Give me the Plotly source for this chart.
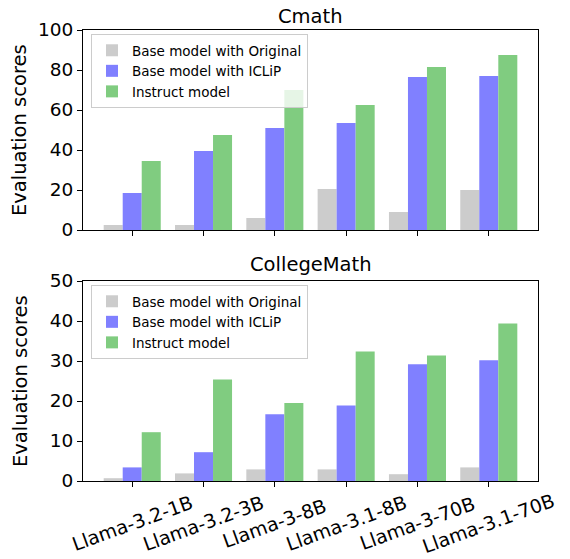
import plotly.graph_objects as go
from plotly.subplots import make_subplots

models = ["Llama-3.2-1B", "Llama-3.2-3B", "Llama-3-8B", "Llama-3.1-8B", "Llama-3-70B", "Llama-3.1-70B"]
series_names = ["Base model with Original", "Base model with ICLiP", "Instruct model"]

cmath_original = [2.5, 2.5, 6.0, 20.5, 9.0, 20.0]
cmath_iclip = [18.5, 39.5, 51.0, 53.5, 76.5, 77.0]
cmath_instruct = [34.5, 47.5, 70.0, 62.5, 81.5, 87.5]

college_original = [0.7, 1.9, 2.9, 2.9, 1.7, 3.4]
college_iclip = [3.4, 7.2, 16.7, 18.9, 29.2, 30.2]
college_instruct = [12.2, 25.4, 19.5, 32.4, 31.4, 39.4]

colors = ["#cccccc", "#8080ff", "#80cc80"]
FONT = "DejaVu Sans"

PLOT_W = 455
PLOT_H = 451

fig = make_subplots(rows=2, cols=1, vertical_spacing=51/PLOT_H,
                    subplot_titles=["Cmath", "CollegeMath"])

x = list(range(len(models)))
for row, data, leg in [(1, [cmath_original, cmath_iclip, cmath_instruct], "legend"),
                       (2, [college_original, college_iclip, college_instruct], "legend2")]:
    for name, vals, c in zip(series_names, data, colors):
        fig.add_trace(go.Bar(x=x, y=vals, name=name, marker_color=c,
                             marker_line_width=0, legend=leg), row=row, col=1)

axis_common = dict(showline=True, linecolor="black", linewidth=1, mirror=True,
                   ticks="outside", ticklen=5, tickcolor="black", showgrid=False,
                   zeroline=False, automargin=False,
                   tickfont=dict(family=FONT, size=18.5, color="black"))

fig.update_xaxes(range=[-0.69, 5.69], tickvals=x, ticktext=models,
                 showticklabels=False, **axis_common)
fig.update_yaxes(**axis_common)
fig.update_yaxes(range=[0, 100], tickvals=[0, 20, 40, 60, 80, 100], row=1, col=1)
fig.update_yaxes(range=[0, 50], tickvals=[0, 10, 20, 30, 40, 50], row=2, col=1)

for ann, ys in zip(fig.layout.annotations, [0, 3]):
    ann.font = dict(family=FONT, size=19.5, color="black")
    ann.yshift = ys

# rotated, centred category labels under the bottom panel
for i, m in enumerate(models):
    fig.add_annotation(text=m, xref="x2", yref="paper", x=i, y=0, yshift=-42,
                       textangle=-20, showarrow=False, xanchor="center", yanchor="middle",
                       font=dict(family=FONT, size=19, color="black"))

# y-axis labels, aligned at the same x for both panels
for yc in [1 - 100/PLOT_H, 100/PLOT_H]:
    fig.add_annotation(text="Evaluation scores", xref="paper", yref="paper",
                       x=(20 - 83) / PLOT_W, y=yc, textangle=-90, showarrow=False,
                       xanchor="center", yanchor="middle",
                       font=dict(family=FONT, size=19.5, color="black"))

legend_common = dict(x=8 / PLOT_W, xanchor="left", yanchor="top",
                     bgcolor="rgba(255,255,255,0.8)", bordercolor="#cccccc", borderwidth=1,
                     font=dict(family=FONT, size=13.5, color="black"),
                     tracegroupgap=0, itemsizing="constant")
fig.update_layout(
    width=562, height=551,
    margin=dict(l=75, r=32, t=22, b=78),
    plot_bgcolor="white", paper_bgcolor="white",
    barmode="group", bargap=0.2, bargroupgap=0,
    font=dict(family=FONT, color="black"),
    legend=dict(y=1 - 4 / PLOT_H, **legend_common),
    legend2=dict(y=(200 - 4) / PLOT_H, **legend_common),
)

fig.write_html("out.html")
